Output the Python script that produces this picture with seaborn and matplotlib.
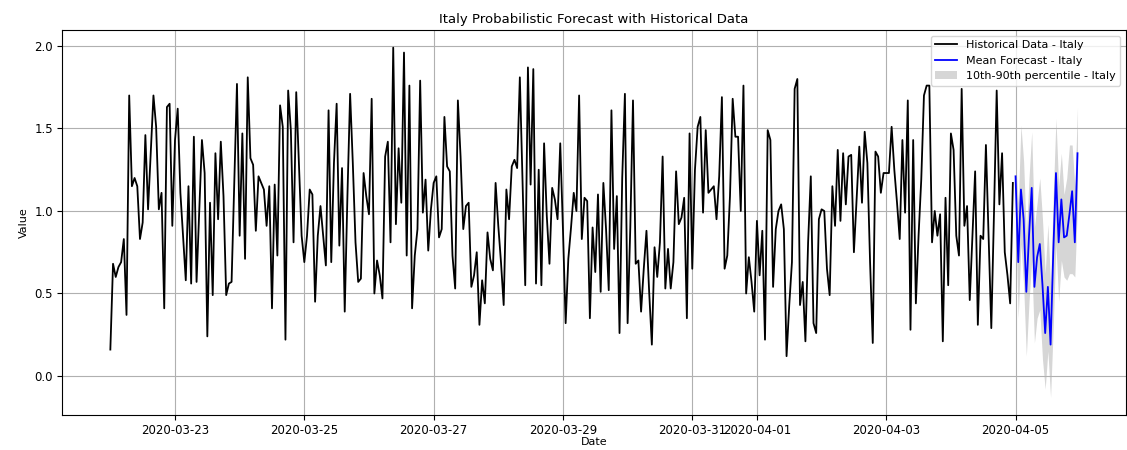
import numpy as np
import pandas as pd
import matplotlib
matplotlib.use("Agg")
import matplotlib.pyplot as plt
import matplotlib.dates as mdates
import seaborn as sns

# Hourly observed values, one list per day (2020-03-22 .. 2020-04-04)
day_0322 = [0.16, 0.68, 0.60, 0.66, 0.69, 0.83, 0.37, 1.70, 1.15, 1.20, 1.15, 0.83,
            0.93, 1.46, 1.01, 1.35, 1.70, 1.51, 1.01, 1.11, 0.41, 1.63, 1.65, 0.91]
day_0323 = [1.43, 1.62, 1.11, 0.85, 0.58, 1.15, 0.56, 1.45, 0.57, 1.00, 1.43, 1.23,
            0.24, 1.05, 0.49, 1.35, 0.95, 1.42, 1.09, 0.49, 0.56, 0.57, 1.17, 1.77]
day_0324 = [0.85, 1.47, 0.71, 1.81, 1.32, 1.28, 0.88, 1.21, 1.17, 1.13, 0.91, 1.15,
            0.41, 1.16, 0.73, 1.64, 1.51, 0.22, 1.73, 1.49, 0.81, 1.72, 1.29, 0.85]
day_0325 = [0.69, 0.85, 1.13, 1.10, 0.45, 0.85, 1.03, 0.85, 0.67, 1.61, 0.69, 1.29,
            1.65, 0.79, 1.26, 0.39, 1.09, 1.71, 1.29, 0.81, 0.57, 0.59, 1.23, 1.09]
day_0326 = [0.98, 1.68, 0.50, 0.70, 0.61, 0.47, 1.33, 1.42, 0.81, 1.99, 0.92, 1.38,
            1.05, 1.96, 0.73, 1.76, 0.41, 0.73, 0.89, 1.79, 0.99, 1.19, 0.76, 1.01]
day_0327 = [1.17, 1.21, 0.84, 0.89, 1.57, 1.27, 1.24, 0.73, 0.53, 1.67, 1.33, 0.89,
            1.03, 1.05, 0.54, 0.61, 0.75, 0.31, 0.58, 0.44, 0.87, 0.71, 0.64, 1.17]
day_0328 = [0.91, 0.69, 0.43, 1.13, 0.95, 1.27, 1.31, 1.26, 1.81, 1.19, 0.55, 1.87,
            1.16, 1.86, 0.56, 1.25, 0.55, 1.41, 0.97, 0.68, 1.14, 1.07, 0.95, 1.41]
day_0329 = [0.89, 0.32, 0.71, 0.90, 1.11, 1.00, 1.70, 0.83, 1.08, 1.06, 0.35, 0.90,
            0.63, 1.10, 0.51, 1.17, 0.89, 0.52, 1.61, 0.77, 1.09, 0.26, 1.20, 1.71]
day_0330 = [0.32, 0.90, 1.67, 0.68, 0.70, 0.39, 0.65, 0.88, 0.51, 0.19, 0.78, 0.60,
            0.81, 1.33, 0.53, 0.77, 0.53, 0.69, 1.24, 0.92, 0.96, 1.08, 0.35, 1.47]
day_0331 = [0.65, 1.25, 1.51, 1.57, 0.99, 1.49, 1.11, 1.13, 1.15, 0.95, 1.21, 1.69,
            0.65, 0.73, 1.09, 1.68, 1.45, 1.45, 1.00, 1.76, 0.50, 0.72, 0.57, 0.39]
day_0401 = [0.94, 0.61, 0.88, 0.22, 1.49, 1.43, 0.54, 0.89, 1.00, 1.04, 0.89, 0.12,
            0.43, 0.69, 1.74, 1.80, 0.43, 0.57, 0.21, 0.81, 1.21, 0.32, 0.26, 0.95]
day_0402 = [1.01, 1.00, 0.65, 0.49, 1.15, 0.91, 1.37, 0.94, 1.35, 1.04, 1.33, 1.34,
            0.75, 1.07, 1.39, 1.05, 1.48, 1.29, 0.69, 0.20, 1.36, 1.33, 1.11, 1.23]
day_0403 = [1.23, 1.23, 1.51, 1.25, 1.05, 0.83, 1.43, 0.99, 1.67, 0.28, 1.43, 0.44,
            0.85, 1.19, 1.70, 1.76, 1.76, 0.81, 1.00, 0.85, 0.98, 0.21, 1.08, 0.55]
day_0404 = [1.47, 1.37, 0.85, 0.73, 1.74, 0.91, 1.03, 0.46, 0.85, 1.24, 0.31, 0.85,
            0.83, 1.40, 0.85, 0.29, 0.99, 1.73, 1.04, 1.35, 0.75, 0.61, 0.44, 1.17]

# Forecast for 2020-04-05 (hourly): mean and 10th / 90th percentiles
forecast_mean = [1.21, 0.69, 1.13, 0.95, 0.51, 0.85, 1.14, 0.54, 0.72, 0.80, 0.55, 0.26,
                 0.54, 0.19, 0.75, 1.23, 0.81, 1.07, 0.84, 0.85, 0.98, 1.12, 0.81, 1.35]
forecast_p10 = [0.95, 0.35, 0.80, 0.55, 0.12, 0.45, 0.70, 0.20, 0.35, 0.40, 0.10, -0.08,
                0.15, -0.13, 0.30, 0.80, 0.45, 0.70, 0.60, 0.58, 0.62, 0.62, 0.60, 1.05]
forecast_p90 = [1.30, 1.05, 1.52, 1.30, 0.85, 1.20, 1.48, 0.90, 1.05, 1.20, 0.95, 0.62,
                0.92, 0.55, 1.10, 1.56, 1.15, 1.35, 1.10, 1.20, 1.40, 1.40, 1.15, 1.63]

history_days = [day_0322, day_0323, day_0324, day_0325, day_0326, day_0327, day_0328,
                day_0329, day_0330, day_0331, day_0401, day_0402, day_0403, day_0404]
history_values = [v for day in history_days for v in day]

hist_df = pd.DataFrame({
    "Date": pd.date_range("2020-03-22 00:00", periods=len(history_values), freq="h"),
    "Value": history_values,
})
fc_df = pd.DataFrame({
    "Date": pd.date_range("2020-04-05 00:00", periods=len(forecast_mean), freq="h"),
    "mean": forecast_mean,
    "p10": forecast_p10,
    "p90": forecast_p90,
})

fig, ax = plt.subplots(figsize=(11.27, 4.5), dpi=100)
fig.subplots_adjust(left=0.055, right=0.999, top=0.933, bottom=0.078)

sns.lineplot(data=hist_df, x="Date", y="Value", color="black", linewidth=1.3,
             label="Historical Data - Italy", ax=ax)
sns.lineplot(data=fc_df, x="Date", y="mean", color="blue", linewidth=1.3,
             label="Mean Forecast - Italy", ax=ax)
ax.fill_between(fc_df["Date"], fc_df["p10"], fc_df["p90"], color="gray", alpha=0.32,
                linewidth=0, label="10th-90th percentile - Italy")

ax.xaxis.set_major_locator(mdates.DayLocator(bymonthday=range(1, 32, 2)))
ax.xaxis.set_major_formatter(mdates.DateFormatter("%Y-%m-%d"))
ax.margins(x=0.05, y=0.05)

ax.grid(True, color="#b0b0b0", linewidth=0.8)
ax.set_title("Italy Probabilistic Forecast with Historical Data", fontsize=9.5, pad=5)
ax.set_xlabel("Date", fontsize=8, labelpad=0)
ax.set_ylabel("Value", fontsize=8)
ax.tick_params(labelsize=8.5, pad=3)
ax.legend(loc="upper right", fontsize=8)

fig.savefig("out.png", dpi=100)
